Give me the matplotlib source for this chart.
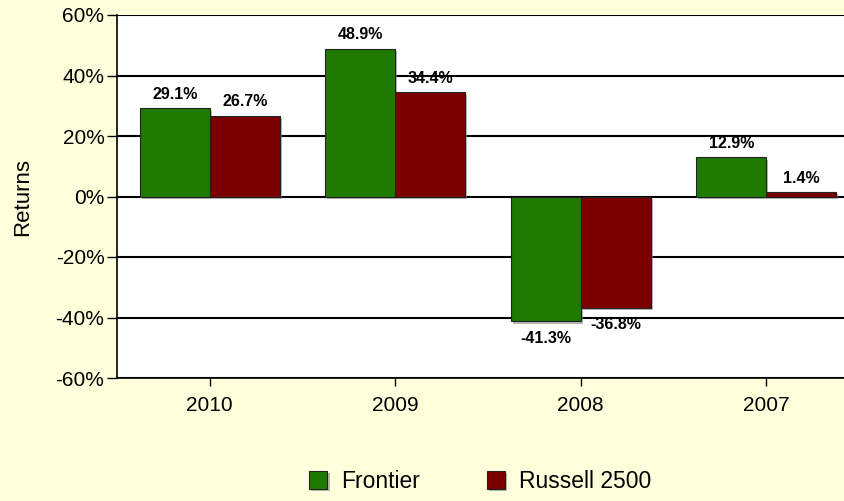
import matplotlib.pyplot as plt
import matplotlib.patheffects as pe
import numpy as np

# --- dados ---
anos = ['2010', '2009', '2008', '2007']
frontier = [29.1, 48.9, -41.3, 12.9]
russell = [26.7, 34.4, -36.8, 1.4]
series = ['Frontier', 'Russell 2500']
cores = ['#1e7b00', '#7b0000']
yticks = [-60, -40, -20, 0, 20, 40, 60]

plt.rcParams['font.family'] = ['Liberation Sans', 'DejaVu Sans']

fig = plt.figure(figsize=(8.45, 5.01), dpi=100, facecolor='#ffffdc')
ax = fig.add_axes([117 / 845, 1 - 378 / 501, 742 / 845, 363 / 501])
ax.set_facecolor('white')

x = np.arange(len(anos))
larg = 0.377
sombra = [pe.SimplePatchShadow(offset=(1.5, -1.5), shadow_rgbFace='#888888', alpha=0.6), pe.Normal()]

for i, (vals, cor, nome) in enumerate(zip([frontier, russell], cores, series)):
    pos = x - larg / 2 + i * larg
    barras = ax.bar(pos, vals, width=larg, color=cor, edgecolor='#222222',
                    linewidth=0.8, label=nome, zorder=3)
    for b in barras:
        b.set_path_effects(sombra)
    for p, v in zip(pos, vals):
        dy = 10 if v >= 0 else -12
        ax.annotate(f'{v:.1f}%', (p, v), xytext=(0, dy), textcoords='offset points',
                    ha='center', va='center', fontsize=11.5, fontweight='bold', zorder=4)

ax.set_ylim(-60, 60)
ax.set_xlim(-0.5, len(anos) - 0.5)
ax.set_yticks(yticks)
ax.set_yticklabels([f'{t}%' for t in yticks], fontsize=15)
ax.set_xticks(x)
ax.set_xticklabels(anos, fontsize=15)
ax.tick_params(axis='y', direction='out', length=7, width=1, pad=2)
ax.tick_params(axis='x', direction='out', length=6, width=1, pad=7)
ax.grid(axis='y', color='black', linewidth=1.5, zorder=1)
ax.set_axisbelow(True)
for lado in ['top', 'right']:
    ax.spines[lado].set_visible(False)
ax.spines['left'].set_linewidth(1.2)
ax.spines['bottom'].set_linewidth(1.2)
ax.set_ylabel('Returns', fontsize=16, labelpad=16)

fig.legend(loc='lower center', bbox_to_anchor=(0.568, -0.025), ncol=2, frameon=False,
           fontsize=16.5, handlelength=0.8, handleheight=0.8, handletextpad=0.6,
           columnspacing=2.9)

fig.savefig('out.png', dpi=100, facecolor=fig.get_facecolor())
